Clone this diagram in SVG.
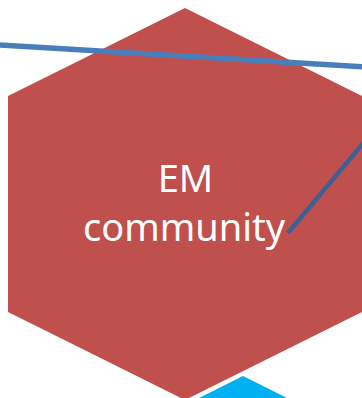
<svg xmlns="http://www.w3.org/2000/svg" width="362" height="398" viewBox="0 0 362 398">
  <style>
    .hex { fill: #C0504D; }
    .tri { fill: #00B0F0; }
    .link { fill: none; stroke-linecap: butt; }
    .label { font-family: "Noto Sans", "Open Sans", sans-serif; font-size: 38px; fill: #FFFFFF; text-anchor: middle; }
  </style>
  <rect width="362" height="398" fill="#FFFFFF"/>

  <!-- neighbouring cell peeking in at the bottom -->
  <g id="node-neighbour">
    <polygon class="tri" points="243,376 198,398.5 288,398.5"/>
  </g>

  <!-- main hexagon node -->
  <g id="node-em-community">
    <polygon class="hex" points="185,8 362,96 362,312 185,400 8,312 8,96"/>
    <text class="label" x="185.5" y="192">EM</text>
    <text class="label" x="184" y="241">community</text>
  </g>

  <!-- connectors -->
  <g id="connectors">
    <line class="link" x1="-2" y1="45" x2="364" y2="66.8" stroke="#4A7EBB" stroke-width="5.5"/>
    <line class="link" x1="288" y1="233" x2="364" y2="142" stroke="#3E6193" stroke-width="4.5"/>
  </g>
</svg>
